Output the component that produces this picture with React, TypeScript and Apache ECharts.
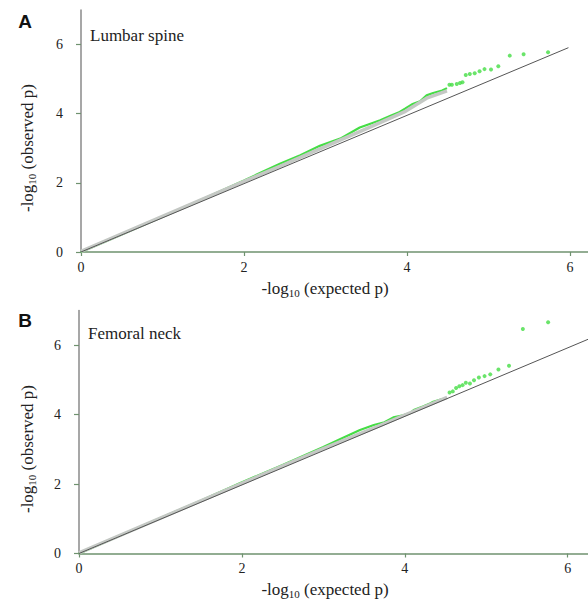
import React, { useEffect, useRef } from "react";
import * as echarts from "echarts";

// ---- Data ----
const xTicks = [0, 2, 4, 6];
const yTicks = [0, 2, 4, 6];

// Panel A: Lumbar spine
const lumbarDense: [number, number][] = [
  [0, 0], [0.5, 0.51], [1.0, 1.02], [1.3, 1.33], [1.6, 1.64], [2.0, 2.07],
  [2.44, 2.55], [2.69, 2.8], [2.93, 3.07], [3.18, 3.28], [3.42, 3.6],
  [3.55, 3.71], [3.67, 3.81], [3.79, 3.93], [3.91, 4.05], [3.98, 4.15],
  [4.06, 4.27], [4.16, 4.36], [4.24, 4.53], [4.32, 4.6], [4.43, 4.67], [4.49, 4.74],
];
const lumbarTail: [number, number][] = [
  [4.52, 4.84], [4.55, 4.84], [4.61, 4.86], [4.65, 4.89], [4.68, 4.91],
  [4.72, 5.12], [4.77, 5.15], [4.83, 5.17], [4.89, 5.23], [4.95, 5.29],
  [5.03, 5.28], [5.12, 5.37], [5.26, 5.68], [5.43, 5.72], [5.73, 5.78],
];
const lumbarGray: [number, number][] = [
  [0, 0.02], [1.0, 1.03], [2.0, 2.04], [2.44, 2.48], [2.93, 2.98],
  [3.42, 3.48], [3.67, 3.74], [3.98, 4.07], [4.24, 4.45], [4.49, 4.66],
];
const lumbarRef: [number, number][] = [[0, 0], [5.98, 5.91]];

// Panel B: Femoral neck
const femoralDense: [number, number][] = [
  [0, 0], [0.5, 0.51], [1.0, 1.02], [1.5, 1.53], [1.98, 2.03], [2.5, 2.55],
  [3.0, 3.07], [3.21, 3.3], [3.33, 3.43], [3.45, 3.56], [3.62, 3.7],
  [3.75, 3.78], [3.86, 3.92], [3.98, 3.98], [4.07, 4.05], [4.11, 4.13],
  [4.23, 4.24], [4.31, 4.32], [4.35, 4.37], [4.46, 4.45],
];
const femoralTail: [number, number][] = [
  [4.55, 4.64], [4.59, 4.67], [4.63, 4.77], [4.67, 4.82], [4.71, 4.85],
  [4.75, 4.92], [4.8, 4.9], [4.85, 4.99], [4.91, 5.07], [4.98, 5.11],
  [5.05, 5.16], [5.15, 5.3], [5.28, 5.41], [5.45, 6.47], [5.76, 6.66],
];
const femoralGray: [number, number][] = [
  [0, 0.02], [1.0, 1.02], [2.0, 2.02], [3.0, 3.02], [3.7, 3.69], [4.0, 3.99], [4.52, 4.5],
];
const femoralRef: [number, number][] = [[0, 0], [6.25, 6.17]];

const SERIF = "'Liberation Serif', 'Times New Roman', serif";
const GREEN = "#45dd45";
const AXIS_GREEN = "#6f926f";

function makeAxes(gridIndex: number, xMax: number) {
  const xAxis = {
    gridIndex,
    type: "value",
    min: 0,
    max: xMax,
    axisLine: { show: true, onZero: false, lineStyle: { color: AXIS_GREEN, width: 1.5 } },
    axisTick: { show: true, length: 4, customValues: xTicks, lineStyle: { color: AXIS_GREEN, width: 1.2 } },
    axisLabel: { customValues: xTicks, fontFamily: SERIF, fontSize: 14, color: "#222", margin: 8 },
    splitLine: { show: false },
  };
  const yAxis = {
    gridIndex,
    type: "value",
    min: 0,
    max: 7,
    axisLine: { show: true, onZero: false, lineStyle: { color: "#8a8a8a", width: 1.5 } },
    axisTick: { show: true, length: 5, customValues: yTicks, lineStyle: { color: AXIS_GREEN, width: 1.2 } },
    axisLabel: { customValues: yTicks, fontFamily: SERIF, fontSize: 14, color: "#222", margin: 18 },
    splitLine: { show: false },
  };
  return { xAxis, yAxis };
}

function makeSeries(idx: number, dense: [number, number][], gray: [number, number][], tail: [number, number][], ref: [number, number][]) {
  return [
    {
      type: "line",
      xAxisIndex: idx,
      yAxisIndex: idx,
      data: dense,
      showSymbol: false,
      lineStyle: { color: GREEN, width: 2.2 },
      z: 1,
      silent: true,
    },
    {
      type: "line",
      xAxisIndex: idx,
      yAxisIndex: idx,
      data: gray,
      showSymbol: false,
      lineStyle: { color: "#c4c8c4", width: 3.5 },
      z: 2,
      silent: true,
    },
    {
      type: "line",
      xAxisIndex: idx,
      yAxisIndex: idx,
      data: ref,
      showSymbol: false,
      lineStyle: { color: "#555", width: 1 },
      z: 3,
      silent: true,
    },
    {
      type: "scatter",
      xAxisIndex: idx,
      yAxisIndex: idx,
      data: tail,
      symbol: "circle",
      symbolSize: 4,
      itemStyle: { color: GREEN },
      z: 4,
      silent: true,
    },
  ];
}

const titleRich = {
  a: { fontFamily: SERIF, fontSize: 17, lineHeight: 20, fill: "#222" },
  s: { fontFamily: SERIF, fontSize: 11, lineHeight: 10, verticalAlign: "bottom", fill: "#222" },
};

export default function App() {
  const ref = useRef<HTMLDivElement>(null);
  useEffect(() => {
    if (!ref.current) return;
    const chart = echarts.init(ref.current, null, { renderer: "svg" });
    const a1 = makeAxes(0, 6.22);
    const a2 = makeAxes(1, 6.25);
    chart.setOption({
      animation: false,
      backgroundColor: "#fff",
      grid: [
        { left: 81, top: 10, width: 507, height: 242 },
        { left: 79, top: 310.5, width: 509, height: 243 },
      ],
      xAxis: [a1.xAxis, a2.xAxis],
      yAxis: [a1.yAxis, a2.yAxis],
      series: [
        ...makeSeries(0, lumbarDense, lumbarGray, lumbarTail, lumbarRef),
        ...makeSeries(1, femoralDense, femoralGray, femoralTail, femoralRef),
      ],
      graphic: [
        { type: "text", x: 25, y: 21, style: { text: "A", font: "bold 19px 'Liberation Sans', Arial, sans-serif", fill: "#111", align: "center", verticalAlign: "middle" } },
        { type: "text", x: 25, y: 320, style: { text: "B", font: "bold 19px 'Liberation Sans', Arial, sans-serif", fill: "#111", align: "center", verticalAlign: "middle" } },
        { type: "text", x: 90, y: 35, style: { text: "Lumbar spine", font: "17px " + SERIF, fill: "#222", align: "left", verticalAlign: "middle" } },
        { type: "text", x: 88, y: 333, style: { text: "Femoral neck", font: "17px " + SERIF, fill: "#222", align: "left", verticalAlign: "middle" } },
        { type: "text", x: 325, y: 288, style: { text: "{a|-log}{s|10}{a| (expected p)}", rich: titleRich, align: "center", verticalAlign: "middle" } },
        { type: "text", x: 325, y: 589, style: { text: "{a|-log}{s|10}{a| (expected p)}", rich: titleRich, align: "center", verticalAlign: "middle" } },
        { type: "text", x: 27, y: 148, rotation: Math.PI / 2, style: { text: "{a|-log}{s|10}{a| (observed p)}", rich: titleRich, align: "center", verticalAlign: "middle" } },
        { type: "text", x: 27, y: 449, rotation: Math.PI / 2, style: { text: "{a|-log}{s|10}{a| (observed p)}", rich: titleRich, align: "center", verticalAlign: "middle" } },
      ],
    });
    return () => chart.dispose();
  }, []);
  return (
    <div style={{ position: "fixed", left: 0, top: 0, width: 588, height: 600, background: "#fff" }}>
      <div ref={ref} style={{ width: 588, height: 600 }} />
    </div>
  );
}
